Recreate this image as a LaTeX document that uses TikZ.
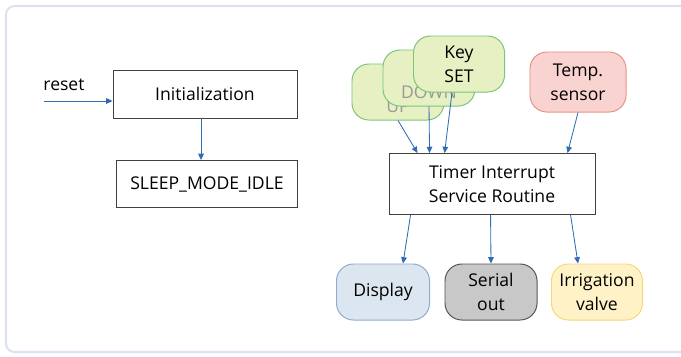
\documentclass[tikz,border=0pt]{standalone}
\usepackage{fontspec}
\setmainfont{Open Sans}
\usepackage{tikz}
\usetikzlibrary{arrows.meta, positioning, calc}
\definecolor{azulFlecha}{RGB}{46,109,180}
\definecolor{marco}{RGB}{221,226,242}
\definecolor{llaveFondo}{RGB}{230,240,194}
\definecolor{llaveBorde}{RGB}{124,196,124}
\definecolor{tempFondo}{RGB}{249,211,208}
\definecolor{tempBorde}{RGB}{230,144,138}
\definecolor{dispFondo}{RGB}{220,230,240}
\definecolor{dispBorde}{RGB}{143,170,203}
\definecolor{serieFondo}{RGB}{200,200,200}
\definecolor{serieBorde}{RGB}{85,85,85}
\definecolor{riegoFondo}{RGB}{255,242,198}
\definecolor{riegoBorde}{RGB}{245,215,122}

\begin{document}
\begin{tikzpicture}[
  x=0.025cm, y=-0.025cm,
  font=\fontsize{12.5}{17}\selectfont,
  caja/.style={rectangle, draw=black!75, fill=white, line width=0.6pt,
               align=center, inner sep=2pt},
  pastilla/.style={rectangle, rounded corners=12pt, line width=0.7pt,
                   minimum width=2.3cm, minimum height=1.4cm, align=center,
                   inner sep=2pt},
  tecla/.style={pastilla, fill=llaveFondo, draw=llaveBorde},
  flecha/.style={-{Triangle[length=4.5pt, width=4pt]}, draw=azulFlecha,
                 line width=0.6pt}
]
\useasboundingbox (0,0) rectangle (681,356);
% marco
\draw[marco, line width=1.5pt, rounded corners=6pt] (6,6) rectangle (700,352);

% lado izquierdo
\node[caja, minimum width=4.6cm, minimum height=1.2cm] (init) at (205,94) {Initialization};
\node[caja, minimum width=4.525cm, minimum height=1.175cm] (sleep) at (207,184) {SLEEP\_MODE\_IDLE};
\node (reset) at (64,85) {reset};
\coordinate (resetIn) at (44,101);

% teclas (de atras hacia adelante)
\node[tecla, text=black!40] (keyUp) at (398,92) {\strut\\UP};
\node[tecla, text=black!40] (keyDown) at (429,78) {\strut\\DOWN};
\node[tecla, minimum width=2.275cm] (keySet) at (459,64) {Key\\SET};
\node[pastilla, fill=tempFondo, draw=tempBorde, minimum width=2.4cm,
      minimum height=1.5cm] (temp) at (578,82) {Temp.\\sensor};

% rutina de interrupcion
\node[caja, minimum width=5.15cm, minimum height=1.525cm] (timer) at (492,184)
  {Timer Interrupt\\Service Routine};

% salidas
\node[pastilla, fill=dispFondo, draw=dispBorde, minimum width=2.325cm] (display) at (383,292) {Display};
\node[pastilla, fill=serieFondo, draw=serieBorde] (serial) at (491,292) {Serial\\out};
\node[pastilla, fill=riegoFondo, draw=riegoBorde, minimum width=2.275cm] (valve) at (597,292) {Irrigation\\valve};

% flechas
\draw[flecha] (resetIn) -- (resetIn -| init.west);
\draw[flecha] ($(init.south)+(-4,0)$) -- ($(init.south |- sleep.north)+(-4,0)$);
\draw[flecha] (keyUp.south) -- ($(timer.north west)+(29,0)$);
\draw[flecha] (keyDown.south) -- ($(timer.north west)+(41,0)$);
\draw[flecha] ($(keySet.south)+(-7,0)$) -- ($(timer.north west)+(56,0)$);
\draw[flecha] (temp.south) -- ($(timer.north west)+(179,0)$);
\draw[flecha] ($(timer.south west)+(22,0)$) -- ($(display.north)+(20,0)$);
\draw[flecha] ($(timer.south west)+(102,0)$) -- (serial.north);
\draw[flecha] ($(timer.south west)+(182,0)$) -- ($(valve.north)+(-19,0)$);

\end{tikzpicture}
\end{document}
